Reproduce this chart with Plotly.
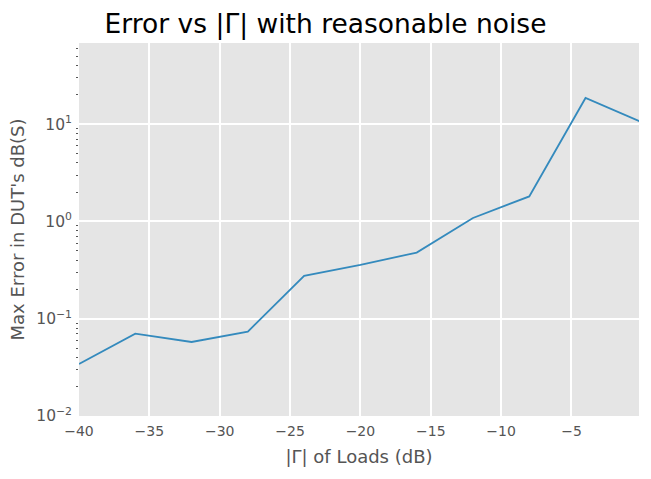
import plotly.graph_objects as go

gamma_db = [-40, -36, -32, -28, -24, -20, -16, -12, -8, -4, 0]
max_error = [0.0343, 0.0702, 0.0577, 0.0736, 0.276, 0.358, 0.479, 1.086, 1.81, 18.6, 10.5]

y_tickvals = [0.01, 0.1, 1, 10]
y_ticktext = ["10<sup>\u22122</sup>", "10<sup>\u22121</sup>", "10<sup>0</sup>", "10<sup>1</sup>"]
y_minor_vals = [k * 10.0 ** e for e in (-2, -1, 0, 1) for k in range(2, 10)]
x_tickvals = [-40, -35, -30, -25, -20, -15, -10, -5]
x_ticktext = ["\u221240", "\u221235", "\u221230", "\u221225", "\u221220", "\u221215", "\u221210", "\u22125"]

font = "DejaVu Sans"

fig = go.Figure()
fig.add_trace(go.Scatter(x=gamma_db, y=max_error, mode="lines",
                         line=dict(color="#348ABD", width=1.8), showlegend=False))

fig.update_layout(
    width=651, height=479,
    margin=dict(l=79, r=12, t=43, b=63),
    paper_bgcolor="white", plot_bgcolor="#E5E5E5",
    font=dict(family=font, color="#555555", size=14),
    title=dict(text="Error vs |\u0393| with reasonable noise", x=0.5, xanchor="center",
               y=0.97, yanchor="top",
               font=dict(family=font, size=26.5, color="black")),
)
fig.update_xaxes(
    range=[-40, -0.2], tickvals=x_tickvals, ticktext=x_ticktext,
    showgrid=True, gridcolor="white", gridwidth=1.6, zeroline=False,
    ticks="", showline=False, ticklabelstandoff=5,
    title=dict(text="|\u0393| of Loads (dB)", font=dict(size=18, color="#555555"), standoff=12),
    tickfont=dict(size=14, color="#555555"),
)
fig.update_yaxes(
    type="log", range=[-2, 1.835], tickvals=y_tickvals, ticktext=y_ticktext,
    showgrid=True, gridcolor="white", gridwidth=1.6, zeroline=False,
    ticks="", showline=False, ticklabelstandoff=6,
    minor=dict(ticks="outside", ticklen=2, tickcolor="#555555", tickwidth=1,
               showgrid=False, tickvals=y_minor_vals),
    title=dict(text="Max Error in DUT's dB(S)", font=dict(size=18, color="#555555"), standoff=6),
    tickfont=dict(size=15.5, color="#555555"),
)

fig.write_html("out.html")
